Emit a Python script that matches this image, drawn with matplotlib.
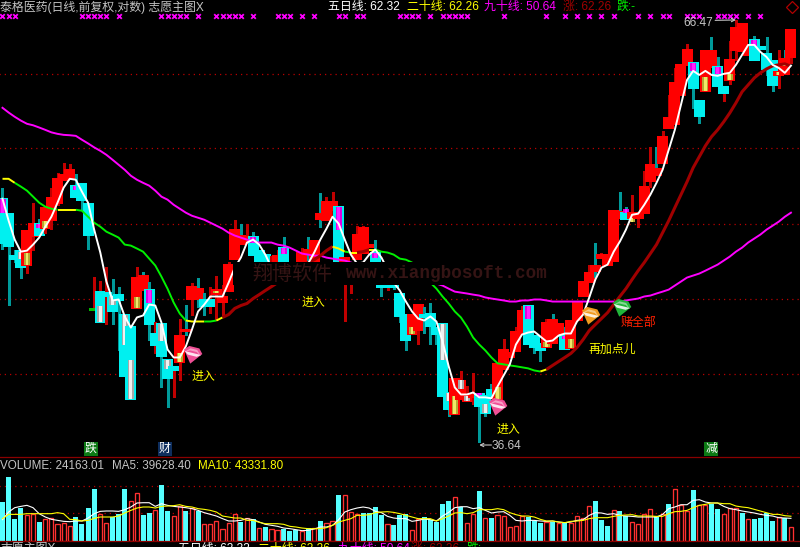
import numpy as np
import matplotlib
matplotlib.use("Agg")
import matplotlib.pyplot as plt
from matplotlib.patches import Rectangle

opens = [51.65,50.57,47.66,48.0,47.06,49.03,49.86,49.58,50.14,51.36,
 53.05,53.12,52.61,52.76,51.28,44.13,45.3,45.24,44.99,45.11,
 43.8,43.12,44.24,45.43,45.43,42.7,43.25,41.11,40.71,41.0,
 42.88,44.86,44.86,44.74,44.74,45.18,44.67,45.37,47.46,48.48,
 48.55,48.96,48.0,47.73,46.73,46.86,48.2,47.2,46.73,46.73,
 47.87,46.86,50.21,50.14,50.85,51.07,46.73,46.4,47.46,47.87,
 48.27,47.87,45.75,45.75,45.75,45.18,43.8,42.7,42.94,43.8,
 43.92,43.06,43.25,39.24,38.1,38.91,38.8,39.02,39.18,39.07,
 39.4,38.91,40.59,41.28,41.63,42.76,44.42,42.58,42.1,41.87,
 42.16,42.64,42.64,41.81,43.55,45.05,45.95,46.66,47.53,47.06,
 47.33,50.28,50.64,50.28,50.28,50.64,52.97,53.42,54.34,57.08,
 57.41,59.8,62.39,62.56,59.3,60.14,62.21,62.21,60.48,61.08,
 63.72,63.63,63.27,64.62,63.99,63.36,62.74,61.5,61.6,63.09]
closes = [48.55,48.34,47.46,46.93,49.37,49.86,49.1,51.0,51.73,53.12,
 53.42,53.8,51.8,51.58,49.1,44.2,43.43,45.05,44.05,44.74,
 40.19,38.91,46.21,46.34,43.25,41.99,41.34,40.08,40.53,42.58,
 42.94,45.62,45.49,44.42,44.42,45.43,44.93,47.06,49.44,49.03,
 48.96,47.73,47.33,47.06,47.13,47.66,47.0,46.73,47.13,47.87,
 48.07,48.68,50.57,51.43,51.43,46.86,47.53,47.13,49.1,49.58,
 48.41,46.86,45.62,45.62,45.62,43.74,42.34,43.8,44.48,43.68,
 43.18,42.7,39.07,38.37,40.02,39.91,39.07,39.13,38.53,38.16,
 39.02,40.88,41.69,41.57,42.82,44.05,42.1,41.87,41.69,43.31,
 43.55,43.25,41.75,43.49,44.61,45.95,46.53,47.0,47.73,47.73,
 50.78,50.71,50.21,50.64,50.64,52.54,54.2,53.88,56.37,57.89,
 60.82,62.39,63.72,60.4,58.06,63.63,63.63,60.57,59.97,62.83,
 65.72,66.1,63.99,62.83,63.81,62.03,60.65,61.78,62.92,65.54]
highs = [52.46,50.57,48.07,48.0,49.37,51.36,50.21,51.0,52.46,53.58,
 54.34,54.26,53.5,52.76,51.28,46.27,46.01,46.93,46.14,45.62,
 43.8,43.12,46.93,46.6,45.95,43.37,43.25,41.11,40.71,43.61,
 44.48,45.88,46.21,45.24,45.62,46.34,45.75,47.26,50.14,49.86,
 49.86,49.3,48.0,47.73,47.66,48.07,48.96,47.2,47.13,48.2,
 48.96,48.68,52.09,51.8,52.16,51.07,47.53,47.13,49.72,49.72,
 48.41,48.75,45.75,45.75,45.75,45.18,43.8,43.8,44.48,44.3,
 44.61,43.06,43.25,39.24,40.02,40.48,39.63,40.36,39.18,39.07,
 39.74,40.88,42.4,41.57,43.12,44.42,44.42,42.58,42.1,43.61,
 43.92,43.25,43.12,43.49,44.61,45.95,47.06,48.55,47.87,47.73,
 50.78,52.16,51.07,51.95,50.64,53.73,55.57,55.57,56.85,59.8,
 62.1,62.39,64.26,62.56,59.3,63.63,64.89,63.09,60.48,64.53,
 66.47,66.1,63.99,65.0,63.99,64.89,62.74,63.72,63.72,65.54]
lows = [48.14,44.48,47.26,46.21,46.53,48.07,49.1,49.23,49.51,51.21,
 53.05,53.12,51.8,50.85,48.14,44.13,43.43,43.25,43.25,41.69,
 40.19,38.91,44.24,45.43,42.34,41.52,39.57,38.48,39.02,39.96,
 42.64,43.86,44.3,43.8,43.98,43.55,43.86,45.37,47.46,48.48,
 48.55,47.73,47.33,47.06,46.73,46.86,47.0,46.73,46.73,46.73,
 47.26,46.86,49.65,50.14,50.35,46.86,43.49,45.24,47.46,47.87,
 48.27,46.86,44.99,45.43,45.49,43.43,41.69,42.7,42.1,42.76,
 42.1,42.1,39.07,37.99,38.1,38.91,38.8,38.64,36.64,37.99,
 39.02,38.91,40.59,41.28,41.63,42.76,42.1,41.57,41.05,41.87,
 42.16,42.64,41.75,41.81,43.55,45.05,45.95,46.27,47.53,47.06,
 47.33,50.28,50.21,50.28,49.65,50.64,52.54,53.42,54.34,57.08,
 57.41,59.8,62.39,58.71,57.49,60.14,62.21,60.57,59.3,60.74,
 62.83,63.63,63.27,62.83,63.81,61.5,60.14,60.4,61.6,62.56]

# candles whose wick is drawn in the other colour family
teal_wick = [23,30,32,39,50,52,90,97,101,107,116,128]
red_wick = [16,17,25,28,34,63,118]
doji_green = [15]

# coloured inner stripes: candle, upper price, lower price
gray_i = [3,16,18,20,21,26,27,72,73,75,76,79]
gray_hi = [47.93,44.42,44.99,43.8,41.11,43.25,41.11,43.25,39.24,39.96,39.07,38.64]
gray_lo = [47.46,43.43,44.48,41.99,38.91,42.28,40.59,41.11,38.8,39.46,38.8,38.16]
gold_i = [4,7,22,29,35,67,74,81,89,93,103,115,119,127,128]
gold_hi = [47.87,50.07,44.93,41.57,45.37,43.12,39.07,39.57,42.22,42.4,50.28,61.34,61.6,61.78,62.5]
gold_lo = [47.06,49.58,44.24,41.0,45.24,42.7,38.1,38.91,41.87,41.81,50.0,60.14,61.08,61.5,62.3]
pink_i = [0,6,12,24,41,46,55,61,78,86,92,102,113,117,123]
pink_hi = [51.65,49.86,52.61,45.43,48.96,48.2,51.07,47.87,39.24,44.42,42.58,50.92,62.56,62.21,64.62]
pink_lo = [50.64,49.58,52.31,44.61,48.55,47.8,49.44,47.53,39.02,43.61,42.4,50.64,61.86,61.6,64.08]

ma5 = [51.65,50.07,48.75,47.93,48.0,48.41,48.89,49.65,50.35,51.36,52.46,53.12,53.05,52.16,51.36,49.44,47.87,45.95,44.74,44.8,43.74,43.06,
 43.68,43.8,44.48,44.42,43.37,41.75,41.28,41.28,41.93,42.94,44.05,44.48,44.99,44.99,44.99,45.88,46.86,47.53,48.55,48.75,48.41,47.73,
 46.86,46.6,46.73,46.4,46.21,46.6,47.13,47.87,48.75,49.51,50.35,49.86,48.75,47.73,47.13,47.2,47.73,48.07,47.53,46.73,45.88,45.37,44.67,44.05,
 43.61,43.49,43.74,43.43,42.22,40.77,39.57,39.18,39.18,39.29,39.02,39.02,38.97,39.63,40.25,40.88,42.04,42.64,42.76,42.82,42.52,42.22,42.28,42.58,
 42.7,42.7,43.43,43.86,44.93,46.08,46.86,47.06,47.93,48.61,49.44,50.49,50.57,51.21,51.94,52.82,53.8,55.34,56.92,58.96,61.08,61.86,61.51,61.86,
 61.51,61.43,61.6,61.69,62.39,63.27,64.17,64.17,63.54,63.09,62.39,62.12,61.69,62.32]
ma20 = [53.12,53.12,52.82,52.54,52.24,51.8,51.36,51.07,50.92,50.85,50.85,50.85,50.85,50.78,50.35,49.93,49.65,49.3,49.1,48.89,48.41,48.34,
 48.14,47.93,47.46,47.0,46.27,45.49,44.61,43.92,43.49,43.43,43.43,43.43,43.43,43.49,43.68,43.86,44.24,44.42,44.55,44.86,45.11,45.37,
 45.62,45.88,46.14,46.4,46.66,46.93,47.2,47.39,47.66,48.0,48.27,48.14,47.93,47.87,47.87,47.93,48.07,48.07,47.93,47.87,47.73,47.46,47.39,47.2,
 46.86,46.34,45.88,45.49,44.99,44.55,44.05,43.68,43.12,42.46,42.04,41.69,41.28,40.94,40.88,40.82,40.77,40.71,40.65,40.53,40.47,40.59,40.82,41.05,
 41.28,41.52,41.87,42.34,42.88,43.25,43.61,43.98,44.48,44.99,45.49,46.08,46.66,47.2,47.8,48.41,49.23,50.07,51.0,51.94,52.9,53.96,54.8,55.65,
 56.37,56.92,57.57,58.3,59.13,60.06,60.65,61.25,61.69,62.03,62.3,62.39,62.48,62.26]
ma90 = [58.72,58.33,57.98,57.67,57.41,57.29,57.11,56.92,56.72,56.6,56.52,56.49,56.44,56.13,55.84,55.53,55.26,54.95,54.57,54.18,53.8,53.35,
 53.05,52.82,52.61,52.24,51.8,51.58,51.21,50.92,50.64,50.42,50.28,50.14,49.93,49.72,49.51,
 49.23,49.03,48.89,48.75,48.61,48.55,48.55,48.55,48.41,48.34,48.2,48.0,47.8,47.73,47.66,47.66,47.53,47.46,47.39,
 47.33,47.2,47.06,46.93,46.86,46.73,46.6,46.53,46.4,46.27,46.21,46.08,46.01,45.95,45.88,45.82,
 45.69,45.49,45.3,45.24,45.18,45.11,45.05,44.93,44.86,44.8,44.74,44.67,44.67,44.74,44.74,44.8,44.8,44.74,
 44.67,44.67,44.67,44.67,44.67,44.67,44.67,44.67,44.67,44.67,44.67,44.67,
 44.74,44.8,44.86,44.99,45.05,45.18,45.3,45.43,45.69,45.95,46.21,46.34,46.47,46.66,46.86,47.06,47.33,47.6,47.93,48.2,48.55,48.82,49.1,49.44,49.72,50.0,50.35,50.64]

# colour of the twenty-day line by stretch: first candle, last candle, colour key
ma20_start = [0,2,9,12,30,33,35,36,54,56,57,58,60,61,88,89]
ma20_end = [2,9,12,30,33,35,36,54,56,57,58,60,61,88,89,129]
ma20_key = "ygygygyrygyrygyr"

volume = [68.2,111.4,37.9,58.3,44.9,47.8,32.6,37.9,40.2,30.3,
 31.5,25.7,42,30.3,57.1,90.4,47.8,32.1,42,47.8,
 90.4,69.4,84.5,44.9,49,53.6,97.4,51.9,43.1,60.6,
 51.9,58.3,51.9,29.2,29.2,34.4,21.6,31.5,46.6,33.2,
 40.8,39.1,22.7,24.5,21.6,18.7,21.6,18.1,19.8,18.1,
 23.3,23.3,35,32.1,34.4,79.9,79.9,50.1,47.8,49,
 49,59.5,44.9,29.2,27.4,44.9,46.6,19.8,39.1,42,
 37.3,33.2,65.3,69.4,77.5,59.5,32.1,47.8,86.9,40.8,
 40.8,46.1,43.1,25.1,26.8,43.7,42,34.4,31.5,33.8,
 33.8,31.5,32.1,32.1,44.3,40.8,60.6,69.4,36.1,25.7,
 54.8,51.9,43.1,32.6,30.3,47.8,56.6,43.7,47.8,65.3,
 91.5,63.5,51.9,88.6,63.5,63.5,65.3,55.4,47.8,57.7,
 58.3,49,39.1,37.9,40.2,49.6,34.4,42,40.2,24.16]
vol_kind = ("ccccrrcrrr" "rrccccrrcc" "crrccrccrr" "crcrrrrrrc" "rcrcrrcccr"
            "crcrrcrrrc" "cccrcccrrc" "ccccrcrrcr" "crrrrrcccr" "crcrrrrccc"
            "rccrrrrcrc" "rrrcrrccrr" "rcrccccrcr")
vol_ma5 = [37.3,50.7,58.3,60.6,62.4,58.3,47.8,42,37.9,36.1,34.4,33.8,35,35,40.2,47.8,51.9,52.5,52.5,51.9,54.8,59.5,66.5,67,67,60.6,65.3,62.4,60.6,59.5,58.3,56.6,53.6,49.6,46.6,43.7,39.1,35,35,36.1,39.1,37.3,33.2,29.2,27.4,25.7,22.7,21.6,19.8,18.1,18.7,21,24.5,24.5,27.4,37.3,50.7,54.8,57.7,59.5,57.7,51.9,49.6,43.1,40.2,
 39.1,39.1,34.4,36.1,38.5,37.3,35,43.7,50.1,58.3,60,60,56.6,58.3,53.6,49,50.7,51.3,44.9,36.1,35,36.1,36.1,35,34.4,35,33.2,32.1,33.2,36.1,37.3,44.9,49.6,49,46.6,47.8,44.9,43.7,43.1,42,42,42,42,46.6,56.6,59.5,63.5,63.5,71.1,72.3,68.2,66.5,66.5,60.6,56.6,54.8,52.5,50.7,49,46.6,44.9,43.7,40.8,40.2,39.63]
vol_ma10 = [39.1,46.6,46.6,46.6,47.8,47.8,47.8,47.8,47.8,49.6,47.8,37.9,37.3,35,36.1,39.6,42,42,42,43.7,49,53.6,57.7,59.5,59.5,57.7,60.6,61.2,61.8,63.5,60.6,59.5,56.6,55.4,53.6,50.7,43.7,42,40.2,40.2,36.1,36.1,32.6,30.3,30.3,30.3,29.2,25.7,24.5,22.7,21.6,21.6,21.6,23.3,27.4,33.2,36.1,39.1,44.9,44.9,46.1,49.6,50.7,51.3,50.1,
 47.8,44.9,42,39.1,39.1,39.1,35,39.1,43.7,49,49.6,47.8,49.6,54.8,54.8,54.8,56.6,54.8,49.6,46.1,43.7,43.7,42,37.9,35,35,33.2,32.1,34.4,35,36.1,39.1,40.8,40.8,40.8,43.1,44.9,45.5,46.1,43.7,43.7,43.7,43.1,43.1,47.8,51.3,51.9,53.6,58.3,62.4,64.1,66.5,66.5,65.3,65.3,61.2,59.5,58.3,55.4,52.5,49.6,46.6,46.6,44.3,43.33]

signal_i = [0,1,2,13,14,15,16,17,19,26,27,28,29,30,32,35,36,37,38,39,41,45,46,47,49,51,55,56,58,59,
            65,66,67,68,70,72,73,74,75,76,82,89,92,94,96,98,100,104,106,108,109,112,113,114,117,118,119,120,122,124]
signal_price = 66.85

price_grid = [61.63,55.46,49.86,44.86,40.30]
volume_grid = [96.25,49.0]
gem_i = [31.0,80.9,96.1,101.2]
gem_price = [41.46,38.53,43.86,44.30]
gem_color = ["#f04f96","#f04f96","#f09a1e","#22b53a"]
high_label, low_label = 66.47, 36.64

W, H = 800, 547
CJK = ["Liberation Sans", "Noto Sans CJK SC", "DejaVu Sans"]
CYAN, RED, TEAL, DRED = "#00f0f0", "#ff0000", "#009a9a", "#c00000"
fig = plt.figure(figsize=(W/100, H/100), dpi=100, facecolor="black")
ax = fig.add_axes([0, 1-457/H, 1, 457/H], facecolor="black")
ax.set_yscale("log")
ax.set_xlim(-0.409, 130.48)
ax.set_ylim(35.87, 68.37)
ax.set_axis_off()
ax.hlines(price_grid, -1, 131, colors="#b80000", linestyles=(0, (1, 3.2)), linewidth=0.9, zorder=1)

BODY = 1.47
for i in range(len(opens)):
    o, c, hi, lo = opens[i], closes[i], highs[i], lows[i]
    up = c >= o
    z = 2 + i * 0.01
    wick = DRED if up else TEAL
    if i in teal_wick: wick = TEAL
    if i in red_wick: wick = DRED
    ax.vlines(i, lo, hi, colors=wick, linewidth=0.8, zorder=z, antialiased=False)
    col = RED if up else CYAN
    if i in doji_green: col = "#00c000"
    ax.bar(i, abs(c-o), bottom=min(o, c), width=BODY, color=col, edgecolor=col,
           linewidth=0.3, zorder=z+0.001, antialiased=False)

def stripes(idx, hi, lo, outer, inner):
    for i, a, b in zip(idx, hi, lo):
        z = 2 + i * 0.01 + 0.002
        ax.bar(i, a-b, bottom=b, width=1.0, color=outer, linewidth=0, zorder=z, antialiased=False)
        ax.bar(i, a-b, bottom=b, width=0.45, color=inner, linewidth=0, zorder=z+0.0005, antialiased=False)
stripes(gray_i, gray_hi, gray_lo, "#a8a8a8", "#f0f0f0")
stripes(gold_i, gold_hi, gold_lo, "#b5a832", "#f0e868")
stripes(pink_i, pink_hi, pink_lo, "#e000e0", "#ff20ff")

x = np.arange(len(ma5))
ax.plot(np.arange(len(ma90)), ma90, color="#ff00ff", lw=1.4, zorder=5)
colors20 = {"y": ("#ffff00", 1.4), "g": ("#00f000", 1.4), "r": ("#a00000", 2.2)}
for a, b, k in zip(ma20_start, ma20_end, ma20_key):
    ax.plot(np.arange(a, b+1), ma20[a:b+1], color=colors20[k][0], lw=colors20[k][1], zorder=5.5,
            solid_capstyle="butt")
ax.plot(x, ma5, color="white", lw=1.4, zorder=6)

ax.scatter(signal_i, [signal_price]*len(signal_i), marker="x", s=11, color="#ff00ff", linewidths=1.3, zorder=7)

# gems
th = np.deg2rad(-14)
rot = np.array([[np.cos(th), -np.sin(th)], [np.sin(th), np.cos(th)]])
gem_outline = np.array([(-1,0.3),(-0.55,0.8),(0.55,0.8),(1,0.3),(0,-1)]) @ rot.T
gem_band = np.array([(-1,0.18),(1,0.18),(0.55,-0.15),(-0.55,-0.15)]) @ rot.T
gem_top = np.array([(-1,0.05),(-0.4,0.65),(0.4,0.65),(1,0.05),(0.4,0.4),(-0.4,0.4)]) @ rot.T
for gi, gp, gc in zip(gem_i, gem_price, gem_color):
    ax.scatter([gi],[gp], marker=gem_outline, s=200, color=gc, linewidths=0, zorder=8)
    ax.scatter([gi],[gp], marker=gem_band, s=150, color="#ffffff", alpha=0.85, linewidths=0, zorder=8.1)
    ax.scatter([gi],[gp], marker=gem_top, s=145, color="#ffffff", alpha=0.45, linewidths=0, zorder=8.1)

ax.plot([129.1],[67.7], marker="D", ms=6.5, mfc="none", mec="#b00000", mew=0.9, zorder=8)

# watermark panel
fig.add_artist(Rectangle((233/W, 1-285/H), (552-233)/W, 23/H, transform=fig.transFigure,
                         facecolor="black", edgecolor="none", zorder=5))
def T(px, py, s, color, size=8.6, ha="left", family=None, **kw):
    return fig.text(px/W, 1-py/H, s, color=color, fontsize=size, ha=ha, va="center",
                    family=family or CJK, zorder=7, **kw)
T(252, 274, "翔博软件", "#351414", 14.4, family=["Noto Sans CJK SC"])
T(346, 274, "www.xiangbosoft.com", "#351414", 12.7, family=["Liberation Mono"], fontweight="bold")

# header rows
GRAY = "#c4c4c4"
T(0, 7, "泰格医药(日线,前复权,对数) 志愿主图X", GRAY)
T(328, 7, "五日线: 62.32", "white")
T(407, 7, "二十线: 62.26", "#ffff00")
T(484, 7, "九十线: 50.64", "#ff00ff")
T(563, 7, "涨: 62.26", "#a00000")
T(617, 7, "跌:-", "#00f000")

T(0, 549, "志愿主图X", GRAY)
T(178, 549, "五日线: 62.32", "white")
T(258, 549, "二十线: 62.26", "#ffff00")
T(338, 549, "九十线: 50.64", "#ff00ff")
T(411, 549, "涨: 62.26", "#a00000")
T(467, 549, "跌:-", "#00f000")

T(0, 466, "VOLUME: 24163.01", GRAY, 8.4)
T(112, 466, "MA5: 39628.40", GRAY, 8.4)
T(198, 466, "MA10: 43331.80", "#ffff00", 8.4)

# annotations
T(203, 377, "进入", "#ffff00", ha="center")
T(313, 303, "进入", "#ffff00", ha="center")
T(508, 430, "进入", "#ffff00", ha="center")
T(612, 350, "再加点儿", "#ffff00", ha="center")
T(638, 323, "赌全部", "#ff2000", ha="center")

T(683, 23, f"{high_label:.2f}", GRAY)
T(492, 446, f"{low_label:.2f}", GRAY)
arrow = dict(arrowstyle="->", color=GRAY, lw=0.8, mutation_scale=6, shrinkA=0, shrinkB=0)
ax.annotate("", xy=(120, high_label), xytext=(116.6, high_label*0.9995), arrowprops=arrow, zorder=9)
ax.annotate("", xy=(78, low_label*0.9957), xytext=(80, low_label*0.9957), arrowprops=arrow, zorder=9)

for px, s, bg in [(91, "跌", "#0c7a14"), (165, "财", "#0e2e5e"), (711, "减", "#0c7a14")]:
    T(px, 449, s, "white", 8.6, ha="center",
      bbox=dict(boxstyle="square,pad=0.06", facecolor=bg, edgecolor="none"))

# volume panel
v = fig.add_axes([0, 1-541/H, 1, 84/H], facecolor="none")
v.set_xlim(-0.409, 130.48)
v.set_ylim(0, 147)
v.set_axis_off()
v.hlines(volume_grid, -1, 131, colors="#b80000", linestyles=(0, (1, 3.2)), linewidth=0.9, zorder=1)
idx = np.arange(len(volume))
cy = np.array([k == "c" for k in vol_kind])
vol = np.array(volume)
v.bar(idx[cy], vol[cy], width=0.82, color="#55ffff", linewidth=0, zorder=2, antialiased=False)
v.bar(idx[~cy], vol[~cy], width=0.68, facecolor="black", edgecolor="#ff3030", linewidth=0.95, zorder=2.1)
v.plot(np.arange(len(vol_ma5)), vol_ma5, color="white", lw=0.8, zorder=3)
v.plot(np.arange(len(vol_ma10)), vol_ma10, color="#ffff00", lw=0.8, zorder=3)

for py in (457.3, 541.3):
    fig.add_artist(plt.Line2D([0, 1], [1-py/H, 1-py/H], color="#8a0000", lw=0.9, zorder=4,
                              transform=fig.transFigure))

fig.savefig("out.png", dpi=100, facecolor="black")
